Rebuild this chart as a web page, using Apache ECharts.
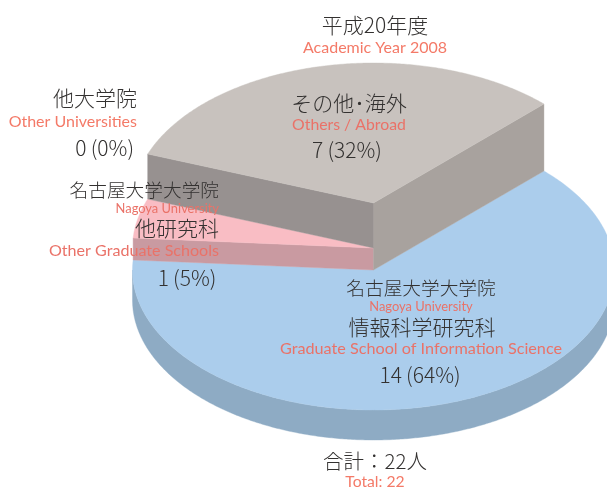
<!DOCTYPE html>
<html><head><meta charset="utf-8">
<style>html,body{margin:0;padding:0;background:#fff}#c{width:607px;height:488px}</style>
<script src="https://cdn.jsdelivr.net/npm/echarts@6/dist/echarts.min.js"></script>
</head><body><div id="c"></div>
<script>
// ---- data ----
const categories = ['その他･海外', '他研究科', '情報科学研究科', '他大学院'];
const counts = [7, 1, 14, 0];
const percentLabels = ['7\u2009(32%)', '1\u2009(5%)', '14\u2009(64%)', '0\u2009(0%)'];
const titleTexts = ['平成20年度', 'Academic Year 2008'];
const totalTexts = ['合計：22人', 'Total: 22'];
const englishNames = ['Others / Abroad', 'Other Graduate Schools', 'Graduate School of Information Science', 'Other Universities'];
const nagoyaTexts = ['名古屋大学大学院', 'Nagoya University'];

// ---- drawing setup ----
const CX = 373.5, BASE_Y = 270, RX = 241, RY = 140, START = 45, DEPTH = 30;
const lifts = [67, 22, 0, 0];
const palette = [
  {top:'#c8c2be', wall0:'#a8a29e', wall1:'#979190'},
  {top:'#f9bdc4', wall1:'#c99aa1'},
  {top:'#abcdec', rim:'#8eabc4'},
  {top:'#cccccc'}
];
const total = counts.reduce((a,b)=>a+b,0);
const spans = []; (function(){let a=START; counts.forEach(v=>{const e=a+v/total*360; spans.push([a,e]); a=e;});})();
const pt = (deg,cy)=>{const r=deg*Math.PI/180; return [CX+RX*Math.cos(r), cy-RY*Math.sin(r)];};
const arc = (a0,a1,cy)=>{const n=Math.max(2,Math.ceil(Math.abs(a1-a0)*2)),o=[];for(let i=0;i<=n;i++)o.push(pt(a0+(a1-a0)*i/n,cy));return o;};
const poly = (points,fill)=>({type:'polygon',silent:true,shape:{points},style:{fill,stroke:fill,lineWidth:0.4}});

function renderSlice(params, api){
  const i = api.value(0), [a0,a1] = spans[i], c = palette[i], lift = lifts[i];
  if (a1-a0 <= 0) return {type:'group',children:[]};
  const cy = BASE_Y-lift, kids=[];
  if (c.rim){
    const s=Math.max(a0,180), e=Math.min(a1,360);
    kids.push(poly(arc(s,e,cy).concat(arc(e,s,cy+DEPTH)),c.rim));
  }
  const nextLift = lifts[(i+1)%lifts.length];
  if (c.wall0) kids.push(poly([[CX,cy],pt(a0,cy),pt(a0,BASE_Y),[CX,BASE_Y]],c.wall0));
  if (c.wall1) kids.push(poly([[CX,cy],pt(a1,cy),pt(a1,BASE_Y-nextLift),[CX,BASE_Y-nextLift]],c.wall1));
  kids.push(poly([[CX,cy]].concat(arc(a0,a1,cy)),c.top));
  return {type:'group',children:kids};
}

// ---- text ----
const DARK='#333130', RED='#f47a68', RED2='#ea7268';
const FONT='"Noto Sans CJK JP"', LATIN='Lato,"Noto Sans CJK JP"';
function label(text,x,y,align,size,fill,family,weight){
  return {type:'text',x,y,silent:true,z:10,style:{text,fill,fontSize:size,fontFamily:family||FONT,fontWeight:weight||300,align,verticalAlign:'middle'}};
}
const L=400;
const texts = [
  label(titleTexts[0],375,25,'center',21,DARK),
  label(titleTexts[1],375,48,'center',16,RED,LATIN,L),
  label(categories[3],137,98,'right',21,DARK),
  label(englishNames[3],137,122,'right',16,RED,LATIN,L),
  label(percentLabels[3],134,148,'right',21,DARK),
  label(categories[0],349,103,'center',21,DARK),
  label(englishNames[0],349,125,'center',15.8,RED2,LATIN,L),
  label(percentLabels[0],347,150,'center',21,DARK),
  label(nagoyaTexts[0],219,190,'right',18.7,DARK),
  label(nagoyaTexts[1],219,209,'right',12.9,RED2,LATIN,L),
  label(categories[1],219,228,'right',21,DARK),
  label(englishNames[1],219,251,'right',16.1,RED2,LATIN,L),
  label(percentLabels[1],187,278,'center',21,DARK),
  label(nagoyaTexts[0],421,288,'center',18.7,DARK),
  label(nagoyaTexts[1],421,307,'center',12.9,RED2,LATIN,L),
  label(categories[2],422,327,'center',21,DARK),
  label(englishNames[2],421,349,'center',16.2,RED2,LATIN,L),
  label(percentLabels[2],420,375,'center',21,DARK),
  label(totalTexts[0],375,461,'center',20.5,DARK),
  label(totalTexts[1],375,482,'center',15.7,RED,LATIN,L)
];

const chart = echarts.init(document.getElementById('c'),null,{renderer:'canvas'});
chart.setOption({
  animation:false,
  backgroundColor:'#fff',
  series:[{type:'custom',coordinateSystem:'none',silent:true,clip:false,
    renderItem:renderSlice,
    data:[[2,counts[2]],[1,counts[1]],[0,counts[0]],[3,counts[3]]]}],
  graphic:{elements:texts}
});
</script></body></html>
